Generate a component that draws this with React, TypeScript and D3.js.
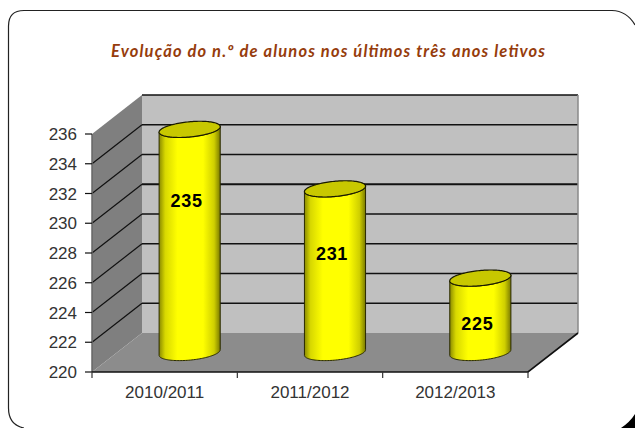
import React from "react";
import * as d3 from "d3";

const title = "Evolução do n.º de alunos nos últimos três anos letivos";
const categories = ["2010/2011", "2011/2012", "2012/2013"];
const values = [235, 231, 225];
const yTicks = [220, 222, 224, 226, 228, 230, 232, 234, 236];
const labelShift = [-34, -11, 15];

const W = 635, H = 428;
const x = d3.scaleBand<string>().domain(categories).range([92, 528]);
const y = d3.scaleLinear().domain([220, 236]).range([372, 134]);
const DX = 50, DY = -39;
const rx = 30.7, ry = 7.6, theta = (-5.5 * Math.PI) / 180;
const yMin = 220, yMax = 236;

const lineGen = d3.line();
const poly = (pts: number[][]) => (lineGen(pts as [number, number][]) || "") + "Z";

// point on the tilted ellipse centred at (cx, cy), t in radians
const ell = (cx: number, cy: number, t: number): [number, number] => {
  const a = rx * Math.cos(t), b = ry * Math.sin(t);
  return [cx + a * Math.cos(theta) - b * Math.sin(theta), cy + a * Math.sin(theta) + b * Math.cos(theta)];
};
const steps = d3.range(0, 61).map((k) => (k / 60) * Math.PI);

function Cylinder({ cat, v, i }: { cat: string; v: number; i: number }) {
  const cx = x(cat)! + x.bandwidth() / 2 + DX / 2;
  const top = y(v) + DY / 2;
  const bot = y(yMin) + DY / 2;
  const lower = steps.map((t) => ell(cx, bot, t));                 // right -> left via the bottom
  const upperFront = steps.map((t) => ell(cx, top, t));            // right -> left, front of the cap
  const upperBack = steps.map((t) => ell(cx, top, t + Math.PI));   // left -> right, back of the cap
  const body = poly([...lower, ...upperFront.slice().reverse()]);
  const cap = poly([...upperFront, ...upperBack]);
  return (
    <g>
      <path d={body} fill="url(#cyl)" stroke="#2a2a00" strokeWidth={1} />
      <path d={cap} fill="#c8c800" stroke="#1a1a00" strokeWidth={1.2} />
      <text x={cx - 3} y={(top + bot) / 2 + labelShift[i]} textAnchor="middle"
        fontFamily="Liberation Sans" fontWeight="bold" fontSize={18} letterSpacing={0.7} fill="#000">{v}</text>
    </g>
  );
}

export default function App() {
  const x0 = x.range()[0], x1 = x.range()[1];
  const yb = y(yMin), yt = y(yMax);
  return (
    <svg width={W} height={H} style={{ position: "fixed", left: 0, top: 0, display: "block" }}>
      <defs>
        <linearGradient id="cyl" x1="0" x2="1" y1="0" y2="0">
          <stop offset="0" stopColor="#8a8a00" />
          <stop offset="0.1" stopColor="#d8d800" />
          <stop offset="0.3" stopColor="#ffff00" />
          <stop offset="0.72" stopColor="#ffff00" />
          <stop offset="0.9" stopColor="#cfcf00" />
          <stop offset="1" stopColor="#7a7a00" />
        </linearGradient>
      </defs>
      <rect width={W} height={H} fill="#fff" />
      <path d={`M24,428 Q8.5,425 8.5,408 V26 Q8.5,10.5 24,10.5 H612 Q627,11 635,25`}
        fill="none" stroke="#222" strokeWidth={1.2} />
      <path d="M635,414 Q630,422 621,428 L635,428 Z" fill="#000" />
      <text x={328} y={57} textAnchor="middle" fontFamily="Lato" fontStyle="italic" fontWeight="bold"
        fontSize={16.5} fill="#963c0c" textLength={434} lengthAdjust="spacing">{title}</text>

      <path d={poly([[x0 + DX, yt + DY], [x1 + DX, yt + DY], [x1 + DX, yb + DY], [x0 + DX, yb + DY]])} fill="#c0c0c0" />
      <path d={poly([[x0, yt], [x0 + DX, yt + DY], [x0 + DX, yb + DY], [x0, yb]])} fill="#7f7f7f" />
      <path d={poly([[x0, yb], [x0 + DX, yb + DY], [x1 + DX, yb + DY], [x1, yb]])} fill="#8c8c8c" />

      {yTicks.slice(1, -1).map((t) => (
        <g key={t} fill="none" stroke="#111">
          <path d={`M${x0},${y(t)} L${x0 + DX},${y(t) + DY}`} strokeWidth={1.2} />
          <path d={`M${x0 + DX},${y(t) + DY} H${x1 + DX}`} strokeWidth={t === 230 ? 2.2 : 1.3} />
        </g>
      ))}
      <path d={`M${x0 + DX},${yt + DY} H${x1 + DX}`} stroke="#111" strokeWidth={1.3} />
      <path d={`M${x1 + DX},${yt + DY} V${yb + DY}`} stroke="#8a8a8a" strokeWidth={1.5} />
      <path d={`M${x0},${yt} V${yb}`} stroke="#666" strokeWidth={1.5} />
      <path d={`M${x0},${yb} H${x1} L${x1 + DX},${yb + DY}`} fill="none" stroke="#111" strokeWidth={1.6} />

      {yTicks.map((t) => (
        <g key={t}>
          <line x1={x0 - 7} x2={x0} y1={y(t)} y2={y(t)} stroke="#111" strokeWidth={1.2} />
          <text x={77} y={y(t) + 6} textAnchor="end" fontFamily="Liberation Sans" fontSize={17} fill="#333">{t}</text>
        </g>
      ))}
      {[...categories.map((c) => x(c)!), x1].map((px) => (
        <line key={px} x1={px} x2={px} y1={yb} y2={yb + 6} stroke="#333" strokeWidth={1.2} />
      ))}
      {categories.map((c) => (
        <text key={c} x={x(c)! + x.bandwidth() / 2} y={398} textAnchor="middle" fontFamily="Liberation Sans" fontSize={17} fill="#333">{c}</text>
      ))}
      {categories.map((c, i) => <Cylinder key={c} cat={c} v={values[i]} i={i} />)}
    </svg>
  );
}
